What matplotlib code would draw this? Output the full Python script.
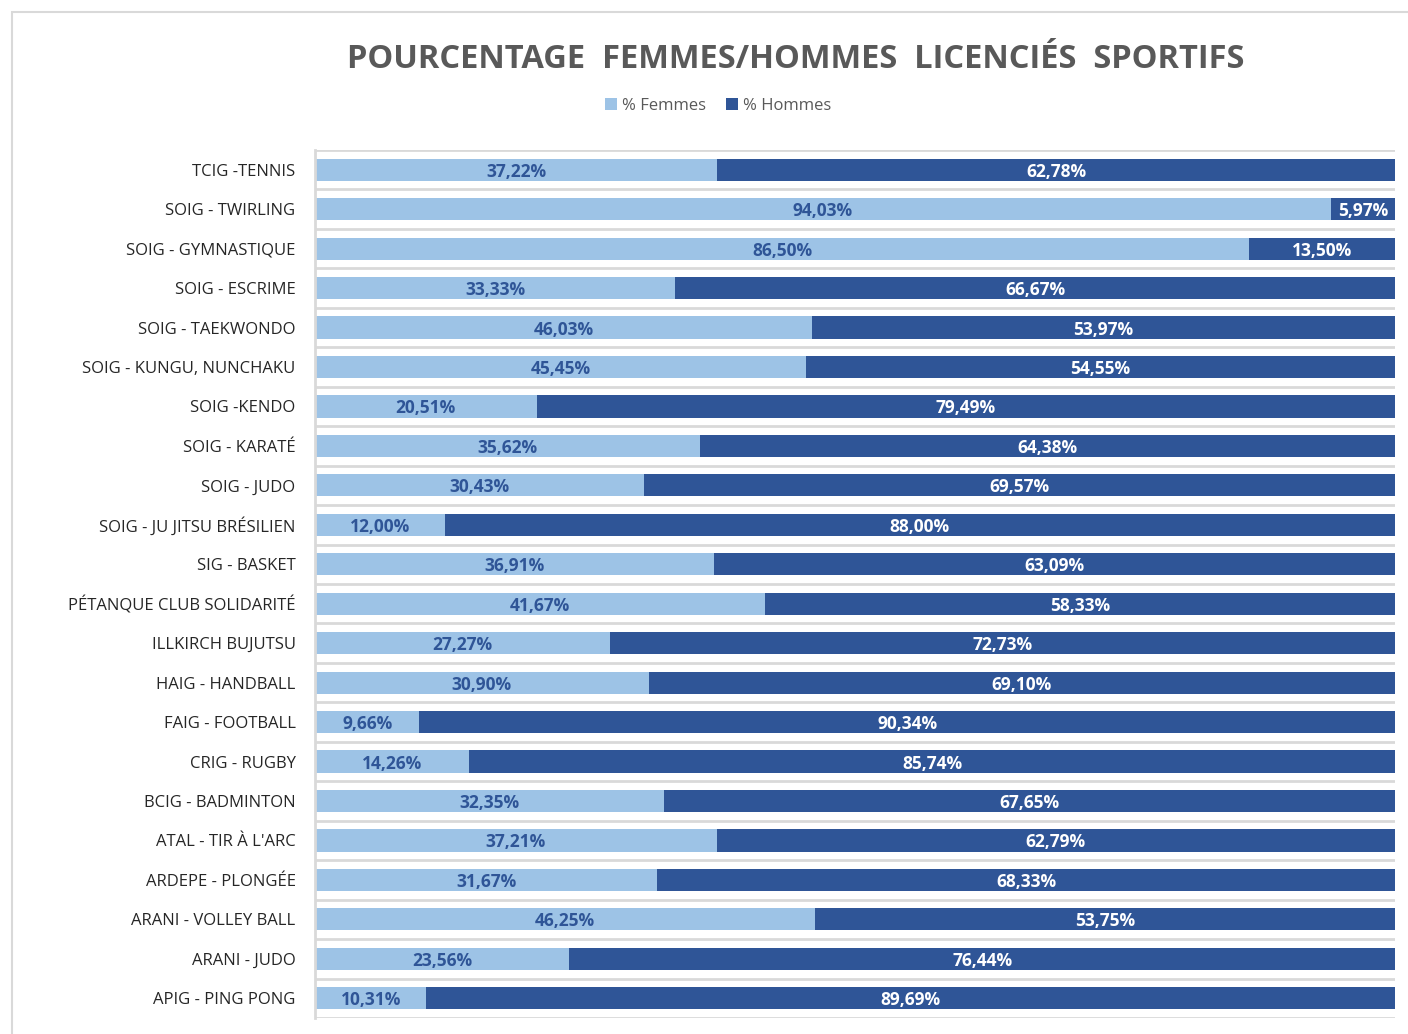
import matplotlib.pyplot as plt
from matplotlib.patches import Rectangle

# data, top to bottom
clubs = ["TCIG -TENNIS", "SOIG - TWIRLING", "SOIG - GYMNASTIQUE", "SOIG - ESCRIME",
         "SOIG - TAEKWONDO", "SOIG - KUNGU, NUNCHAKU", "SOIG -KENDO", "SOIG - KARATÉ",
         "SOIG - JUDO", "SOIG - JU JITSU BRÉSILIEN", "SIG - BASKET", "PÉTANQUE CLUB SOLIDARITÉ",
         "ILLKIRCH BUJUTSU", "HAIG - HANDBALL", "FAIG - FOOTBALL", "CRIG - RUGBY",
         "BCIG - BADMINTON", "ATAL - TIR À L'ARC", "ARDEPE - PLONGÉE", "ARANI - VOLLEY BALL",
         "ARANI - JUDO", "APIG - PING PONG"]
femmes = [37.22, 94.03, 86.50, 33.33, 46.03, 45.45, 20.51, 35.62, 30.43, 12.00, 36.91,
          41.67, 27.27, 30.90, 9.66, 14.26, 32.35, 37.21, 31.67, 46.25, 23.56, 10.31]
hommes = [62.78, 5.97, 13.50, 66.67, 53.97, 54.55, 79.49, 64.38, 69.57, 88.00, 63.09,
          58.33, 72.73, 69.10, 90.34, 85.74, 67.65, 62.79, 68.33, 53.75, 76.44, 89.69]

light = "#9DC3E6"
dark = "#2F5597"

plt.rcParams['font.family'] = ['Open Sans', 'DejaVu Sans']

fig = plt.figure(figsize=(14.08, 10.34), dpi=100)
fig.patches.append(Rectangle((12 / 1408, -0.1), 1.2, 1 - 12 / 1034 + 0.1,
                             transform=fig.transFigure, fill=False,
                             edgecolor="#D9D9D9", linewidth=1.5))

ax = fig.add_axes([315 / 1408, 16 / 1034, 1080 / 1408, 868 / 1034])
y = list(range(len(clubs)))
ax.barh(y, femmes, height=0.56, color=light, label="% Femmes")
ax.barh(y, hommes, left=femmes, height=0.56, color=dark, label="% Hommes")

def fmt(v):
    return f"{v:.2f}%".replace(".", ",")

for i in y:
    ax.text(femmes[i] / 2, i, fmt(femmes[i]), ha="center", va="center_baseline",
            fontsize=12.5, fontweight="bold", color=dark)
    ax.text(femmes[i] + hommes[i] / 2, i, fmt(hommes[i]), ha="center", va="center_baseline",
            fontsize=12.5, fontweight="bold", color="white")

ax.set_xlim(0, 100)
ax.set_ylim(len(clubs) - 0.5, -0.5)
for b in range(len(clubs) + 1):
    ax.axhline(b - 0.5, color="#D9D9D9", linewidth=2, zorder=0)
ax.set_yticks(y)
ax.set_yticklabels(clubs, fontsize=12, color="#262626")
ax.tick_params(axis="y", length=0, pad=14)
ax.set_xticks([])
for s in ["top", "right", "bottom"]:
    ax.spines[s].set_visible(False)
ax.spines["left"].set_color("#D9D9D9")
ax.spines["left"].set_linewidth(2)

fig.text(796 / 1408, 1 - 60 / 1034, "POURCENTAGE  FEMMES/HOMMES  LICENCIÉS  SPORTIFS",
         ha="center", va="center", fontsize=23.5, fontweight="bold", color="#595959")
fig.legend(loc="center", bbox_to_anchor=(718 / 1408, 1 - 106 / 1034), ncol=2,
           frameon=False, fontsize=12, handlelength=0.7, handleheight=0.7,
           columnspacing=1.2, handletextpad=0.3, labelcolor="#595959")

fig.savefig("out.png", dpi=100)
